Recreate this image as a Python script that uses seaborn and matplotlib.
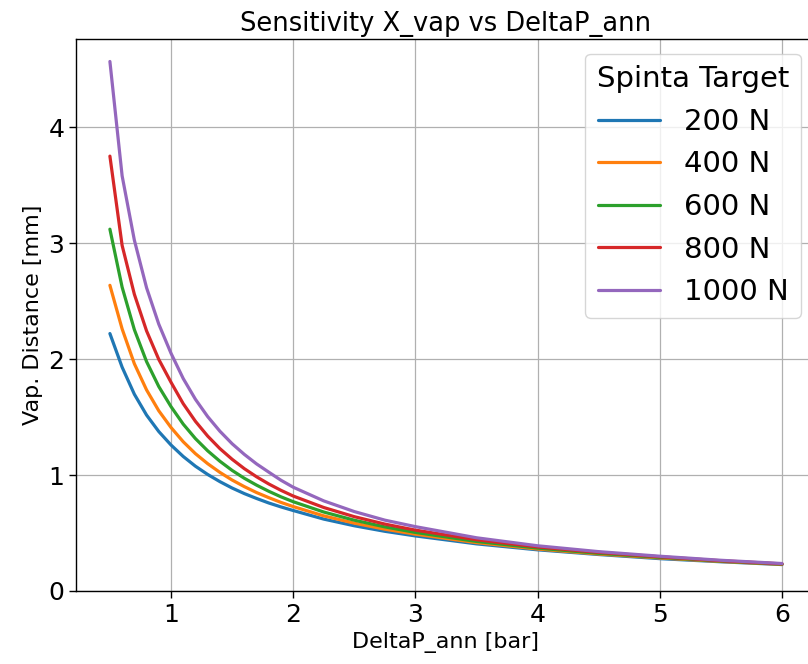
import numpy as np
import pandas as pd
import matplotlib
matplotlib.use("Agg")
import matplotlib.pyplot as plt
import seaborn as sns

deltap = [0.5, 0.6, 0.7, 0.8, 0.9, 1.0, 1.1, 1.2, 1.3, 1.4, 1.5, 1.6, 1.7, 1.8, 1.9, 2.0,
          2.25, 2.5, 2.75, 3.0, 3.5, 4.0, 4.5, 5.0, 5.5, 6.0]
x_200 = [2.22, 1.93, 1.697, 1.517, 1.375, 1.259, 1.160, 1.076, 1.005, 0.943, 0.888, 0.840, 0.798, 0.759, 0.725, 0.694,
         0.620, 0.5625, 0.5147, 0.475, 0.4065, 0.355, 0.3145, 0.279, 0.252, 0.228]
x_400 = [2.636, 2.26, 1.960, 1.734, 1.554, 1.41, 1.287, 1.184, 1.098, 1.023, 0.957, 0.900, 0.849, 0.805, 0.764, 0.728,
         0.648, 0.585, 0.533, 0.49, 0.417, 0.362, 0.319, 0.285, 0.255, 0.230]
x_600 = [3.12, 2.62, 2.254, 1.978, 1.763, 1.59, 1.439, 1.314, 1.209, 1.119, 1.040, 0.972, 0.913, 0.860, 0.812, 0.770,
         0.681, 0.6105, 0.553, 0.505, 0.4275, 0.37, 0.325, 0.290, 0.258, 0.232]
x_800 = [3.75, 2.98, 2.559, 2.243, 1.997, 1.80, 1.615, 1.463, 1.336, 1.228, 1.136, 1.055, 0.985, 0.923, 0.868, 0.819,
         0.720, 0.641, 0.577, 0.525, 0.442, 0.38, 0.333, 0.295, 0.261, 0.234]
x_1000 = [4.566, 3.58, 3.026, 2.615, 2.301, 2.05, 1.832, 1.653, 1.504, 1.378, 1.270, 1.178, 1.096, 1.025, 0.955, 0.895,
          0.777, 0.685, 0.611, 0.555, 0.459, 0.39, 0.3395, 0.300, 0.265, 0.237]
targets = ["200 N", "400 N", "600 N", "800 N", "1000 N"]

series = [x_200, x_400, x_600, x_800, x_1000]
rows = []
for t, vals in zip(targets, series):
    for d, v in zip(deltap, vals):
        rows.append({"DeltaP": d, "X": v, "Target": t})
df = pd.DataFrame(rows)

sns.set_style("ticks")
plt.rcParams['font.family'] = ['DejaVu Sans']
plt.rcParams['text.color'] = 'black'
plt.rcParams['axes.labelcolor'] = 'black'
plt.rcParams['xtick.color'] = 'black'
plt.rcParams['ytick.color'] = 'black'

fig = plt.figure(figsize=(8.08, 6.64), dpi=100)
W, H = 808, 664
ax = fig.add_axes([76.3 / W, 1 - 591 / H, (815.6 - 76.3) / W, (591 - 39) / H])

sns.lineplot(data=df, x="DeltaP", y="X", hue="Target", hue_order=targets,
             palette=sns.color_palette("tab10", 5), linewidth=2.3, ax=ax,
             estimator=None, sort=True)

ax.set_xlim(0.225, 6.275)
ax.set_ylim(0, 4.76)
ax.set_xticks([1, 2, 3, 4, 5, 6])
ax.set_yticks([0, 1, 2, 3, 4])
ax.tick_params(axis='both', labelsize=18, length=5, width=1, colors='black')
ax.grid(True, color='#b0b0b0', linewidth=0.9)
for s in ax.spines.values():
    s.set_color('black')
    s.set_linewidth(1.0)

ax.set_title("Sensitivity X_vap vs DeltaP_ann", fontsize=18.5, color='black')
ax.set_xlabel("DeltaP_ann [bar]", fontsize=16)
ax.set_ylabel("Vap. Distance [mm]", fontsize=16)

leg = ax.legend(title="Spinta Target", fontsize=21, title_fontsize=21,
                loc="upper right", handlelength=2.15)
leg.get_title().set_color('black')
for t in leg.get_texts():
    t.set_color('black')

fig.savefig("out.png", dpi=100)
